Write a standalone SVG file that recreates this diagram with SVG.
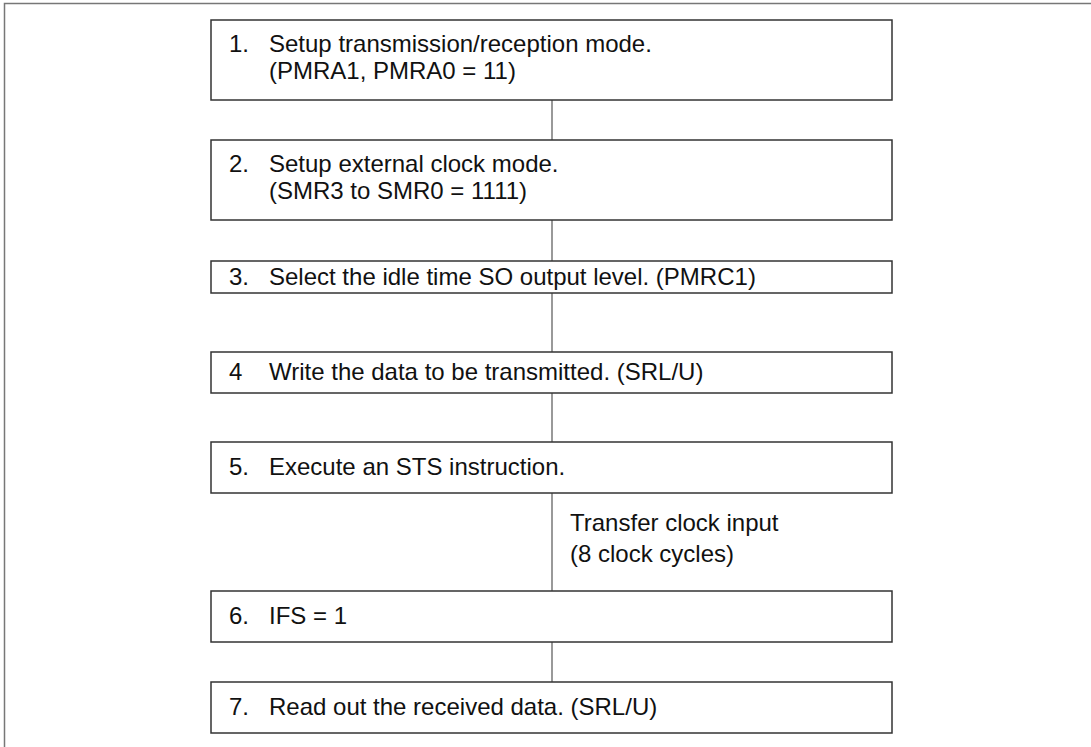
<svg xmlns="http://www.w3.org/2000/svg" width="1091" height="747" viewBox="0 0 1091 747">
<style>
.box{fill:#fff;stroke:#333;stroke-width:1.5}
.t{font-family:"Liberation Sans",Arial,sans-serif;font-size:24px;fill:#111}
.c{stroke:#555;stroke-width:1.2;fill:none}
</style>
<rect width="1091" height="747" fill="#fff"/>
<path d="M4.5,747 V3.5 H1091" fill="none" stroke="#777" stroke-width="1.5"/>
<g id="connectors">
<line class="c" x1="552" y1="100" x2="552" y2="140"/>
<line class="c" x1="552" y1="220" x2="552" y2="261"/>
<line class="c" x1="552" y1="293" x2="552" y2="352"/>
<line class="c" x1="552" y1="393" x2="552" y2="442"/>
<line class="c" x1="552" y1="493" x2="552" y2="591"/>
<line class="c" x1="552" y1="642" x2="552" y2="682"/>
</g>
<g id="n1"><rect class="box" x="211" y="20" width="681" height="80"/>
<text class="t" x="229" y="52">1.</text><text class="t" x="269" y="52">Setup transmission/reception mode.</text>
<text class="t" x="269" y="79">(PMRA1, PMRA0 = 11)</text></g>
<g id="n2"><rect class="box" x="211" y="140" width="681" height="80"/>
<text class="t" x="229" y="172">2.</text><text class="t" x="269" y="172">Setup external clock mode.</text>
<text class="t" x="269" y="199">(SMR3 to SMR0 = 1111)</text></g>
<g id="n3"><rect class="box" x="211" y="261" width="681" height="32"/>
<text class="t" x="229" y="285">3.</text><text class="t" x="269" y="285">Select the idle time SO output level. (PMRC1)</text></g>
<g id="n4"><rect class="box" x="211" y="352" width="681" height="41"/>
<text class="t" x="229" y="380">4</text><text class="t" x="269" y="380">Write the data to be transmitted. (SRL/U)</text></g>
<g id="n5"><rect class="box" x="211" y="442" width="681" height="51"/>
<text class="t" x="229" y="475">5.</text><text class="t" x="269" y="475">Execute an STS instruction.</text></g>
<g id="lbl"><text class="t" x="570" y="531">Transfer clock input</text>
<text class="t" x="570" y="562">(8 clock cycles)</text></g>
<g id="n6"><rect class="box" x="211" y="591" width="681" height="51"/>
<text class="t" x="229" y="624">6.</text><text class="t" x="269" y="624">IFS = 1</text></g>
<g id="n7"><rect class="box" x="211" y="682" width="681" height="51"/>
<text class="t" x="229" y="715">7.</text><text class="t" x="269" y="715">Read out the received data. (SRL/U)</text></g>
</svg>
